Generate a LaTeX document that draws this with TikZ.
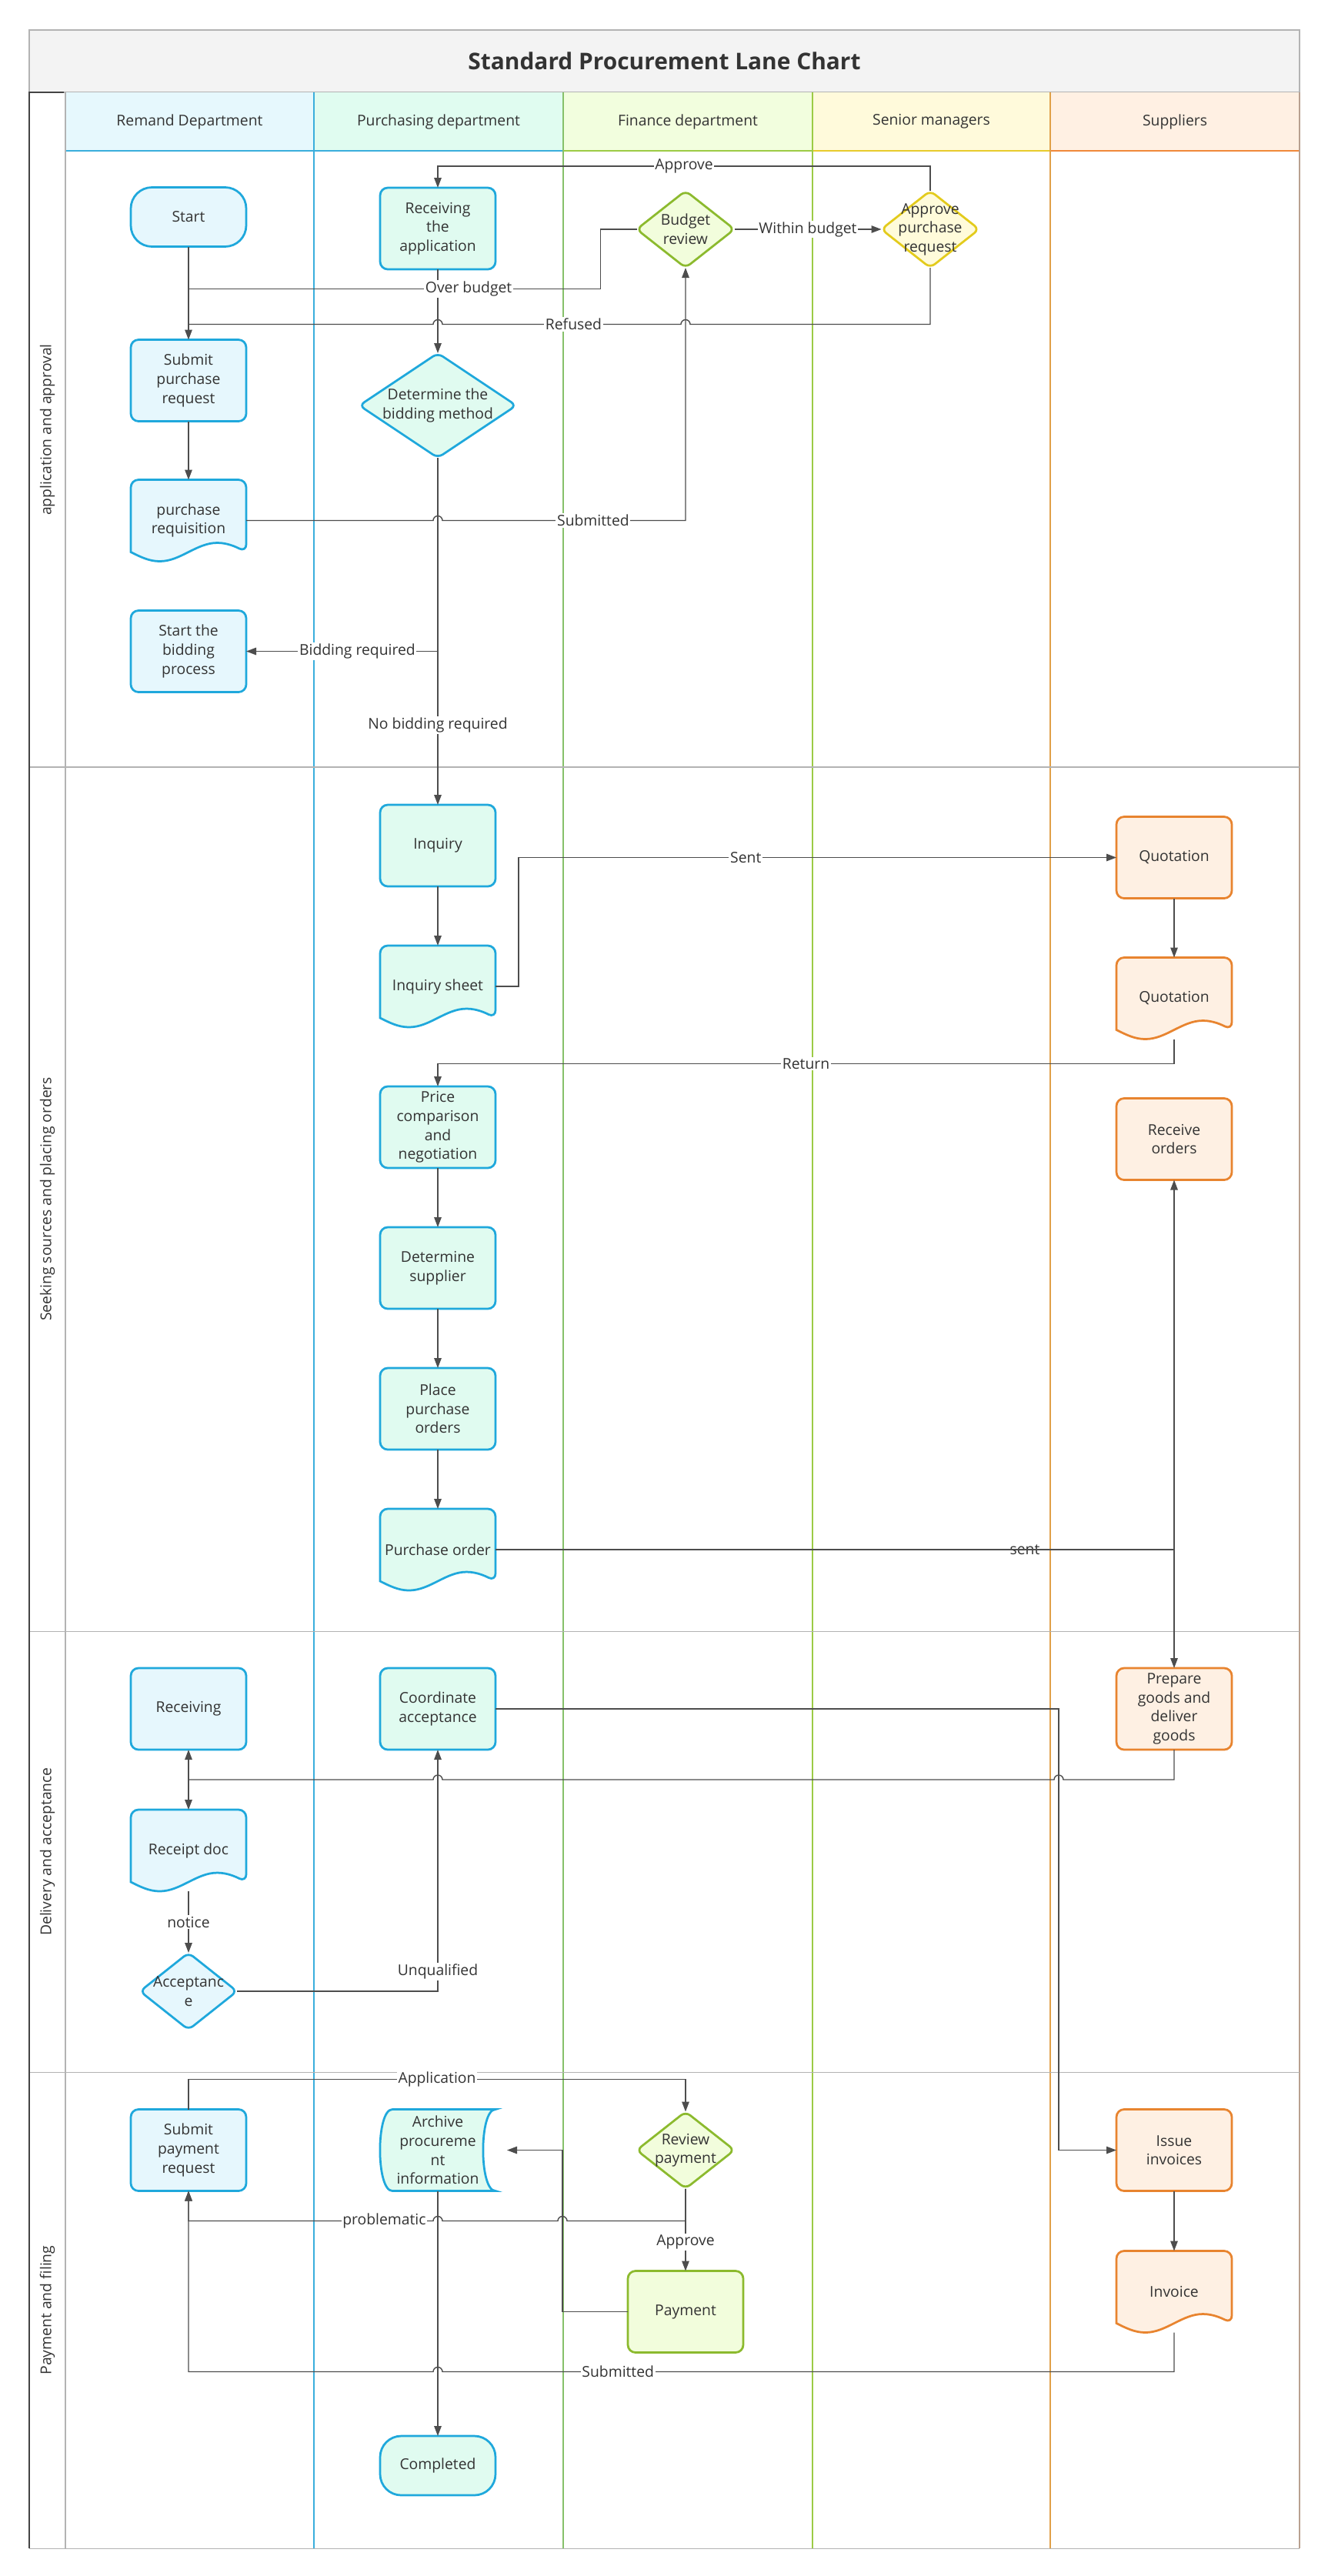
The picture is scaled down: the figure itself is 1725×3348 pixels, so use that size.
\documentclass[tikz,border=0pt]{standalone}
\usepackage{fontspec}
\setmainfont{Open Sans}
\usepackage{xcolor}
\usepackage{tikz}
\usetikzlibrary{shapes.geometric, arrows.meta, positioning, backgrounds}

\definecolor{ink}{HTML}{333333}
\definecolor{edge}{HTML}{4D4D4D}
\definecolor{cblue}{HTML}{1FA8DC}
\definecolor{fblue}{HTML}{E6F7FD}
\definecolor{fmint}{HTML}{E0FBF0}
\definecolor{cgreen}{HTML}{8CBA2E}
\definecolor{fgreen}{HTML}{F2FDDC}
\definecolor{cyellow}{HTML}{E3CB1C}
\definecolor{fyellow}{HTML}{FFFBDA}
\definecolor{corange}{HTML}{E8842F}
\definecolor{forange}{HTML}{FEF0E3}
\definecolor{hblue}{HTML}{E6F8FD}
\definecolor{hmint}{HTML}{E0FCF0}
\definecolor{hgreen}{HTML}{F2FEDE}
\definecolor{hyellow}{HTML}{FFFADB}
\definecolor{horange}{HTML}{FFF0E3}
\definecolor{titlegray}{HTML}{F3F3F3}
\definecolor{framegray}{HTML}{B3B3B3}
\definecolor{darkframe}{HTML}{444444}
\definecolor{lblue}{HTML}{3AAEDC}
\definecolor{lmint}{HTML}{86C06A}
\definecolor{lgreen}{HTML}{9CCB45}
\definecolor{lyellow}{HTML}{E8CB2C}
\definecolor{lorange}{HTML}{E0A048}
\definecolor{lbrown}{HTML}{B8A090}
\definecolor{hdorange}{HTML}{F0883A}

\begin{document}
\begin{tikzpicture}[
    x=0.2mm, y=0.2mm,
    font=\fontsize{11}{14}\selectfont, text=ink,
    task/.style 2 args={rectangle, rounded corners=2mm, draw=#1, fill=#2, line width=0.55mm, minimum width=30mm, minimum height=21.2mm, align=center, inner sep=0pt, outer sep=0pt},
    ends/.style 2 args={task={#1}{#2}, rounded corners=5.5mm, minimum height=15.4mm},
    decision/.style 2 args={diamond, rounded corners=1.5mm, draw=#1, fill=#2, line width=0.55mm, inner sep=-6mm, outer sep=0pt, align=center},
    docbox/.style={rectangle, minimum width=30mm, minimum height=21.2mm, align=center, inner sep=0pt, outer sep=0pt},
    docline/.style 2 args={draw=#1, fill=#2, line width=0.55mm},
    flow/.style={-{Triangle[length=2.6mm, width=1.9mm]}, line width=0.8pt, draw=edge},
    link/.style={line width=0.8pt, draw=edge},
    lbl/.style={fill=white, inner sep=1pt},
    lane/.style={line width=0.6pt},
]

\useasboundingbox (0,0) rectangle (1725,-3348);
\begin{scope}[on background layer]
\fill[white] (0,0) rectangle (1725,-3348);
\end{scope}

% pool
\filldraw[fill=titlegray, draw=framegray, lane] (38,-39) rectangle (1689,-120);
\node[font=\fontsize{17}{20}\selectfont\bfseries] (title) at (863.5,-79.5) {Standard Procurement Lane Chart};

\foreach \xa/\xb/\fc/\lc/\name [count=\i] in {85/408/hblue/lblue/Remand Department, 408/732/hmint/lblue/Purchasing department, 732/1056/hgreen/lgreen/Finance department, 1056/1365/hyellow/lyellow/Senior managers, 1365/1689/horange/hdorange/Suppliers} {
  \fill[\fc] (\xa,-120) rectangle (\xb,-196);
  \draw[\lc, lane] (\xa,-196) -- (\xb,-196);
  \node (head\i) at ({(\xa+\xb)/2},-158) {\name};
}

\foreach \x/\c in {85/framegray, 408/lblue, 732/lmint, 1056/lgreen, 1365/lorange, 1689/lbrown}
  \draw[\c, lane] (\x,-120) -- (\x,-3312);
\foreach \y in {997,2120,2693,3312}
  \draw[framegray, lane] (38,-\y) -- (1689,-\y);
\draw[darkframe, line width=1pt] (83,-120) -- (38,-120) -- (38,-3312);

\foreach \ya/\yb/\name [count=\i] in {120/997/application and approval, 997/2120/Seeking sources and placing orders, 2120/2693/Delivery and acceptance, 2693/3312/Payment and filing}
  \node[rotate=90] (phase\i) at (61.5,{-(\ya+\yb)/2}) {\name};

% application and approval
\node[ends={cblue}{fblue}] (start) at (245,-282) {Start};
\node[task={cblue}{fblue}, below=24.2mm of start] (submit) {Submit\\purchase\\request};
\node[docbox, below=15.2mm of submit] (req) {purchase\\requisition};
\node[task={cblue}{fblue}, below=12.8mm of req] (bidproc) {Start the\\bidding\\process};
\node[task={cblue}{fmint}] (rcv) at (569,-297) {Receiving\\the\\application};
\node[decision={cblue}{fmint}, minimum width=40.8mm, minimum height=27.2mm, below=21.8mm of rcv] (bidmeth) {Determine the\\bidding method};
\node[decision={cgreen}{fgreen}, minimum width=25.4mm, minimum height=20mm] (budget) at (891,-298) {Budget\\review};
\node[decision={cyellow}{fyellow}, minimum width=25.4mm, minimum height=20mm] (approve) at (1209,-298) {Approve\\purchase\\request};

% seeking sources and placing orders
\node[task={cblue}{fmint}] (inquiry) at (569,-1099) {Inquiry};
\node[docbox, below=15.4mm of inquiry] (sheet) {Inquiry sheet};
\node[task={cblue}{fmint}, below=15.4mm of sheet] (compare) {Price\\comparison\\and\\negotiation};
\node[task={cblue}{fmint}, below=15.4mm of compare] (supplier) {Determine\\supplier};
\node[task={cblue}{fmint}, below=15.4mm of supplier] (place) {Place\\purchase\\orders};
\node[docbox, below=15.4mm of place] (po) {Purchase order};
\node[task={corange}{forange}] (quote) at (1526,-1114.5) {Quotation};
\node[docbox, below=15.4mm of quote] (quotedoc) {Quotation};
\node[task={corange}{forange}, below=15.4mm of quotedoc] (order) {Receive\\orders};

% delivery and acceptance
\node[task={cblue}{fblue}] (recv) at (245,-2221) {Receiving};
\node[docbox, below=15.6mm of recv] (receipt) {Receipt doc};
\node[decision={cblue}{fblue}, minimum width=25.2mm, minimum height=20mm, below=16mm of receipt] (accept) {Acceptanc\\e};
\node[task={cblue}{fmint}] (coord) at (569,-2221) {Coordinate\\acceptance};
\node[task={corange}{forange}] (prepare) at (1526,-2221) {Prepare\\goods and\\deliver\\goods};

% payment and filing
\node[task={cblue}{fblue}] (payreq) at (245,-2794.5) {Submit\\payment\\request};
\node[docbox] (archive) at (569,-2794.5) {Archive\\procureme\\nt\\information};
\node[ends={cblue}{fmint}] (done) at (569,-3204.5) {Completed};
\node[decision={cgreen}{fgreen}, minimum width=25.4mm, minimum height=20mm] (review) at (891,-2794.5) {Review\\payment};
\node[task={cgreen}{fgreen}, below=21.4mm of review] (payment) {Payment};
\node[task={corange}{forange}] (invoices) at (1526,-2794.5) {Issue\\invoices};
\node[docbox, below=15.6mm of invoices] (invoice) {Invoice};

\begin{scope}[on background layer]
\foreach \n/\c/\f in {req/cblue/fblue, sheet/cblue/fmint, po/cblue/fmint, quotedoc/corange/forange, receipt/cblue/fblue, invoice/corange/forange}
  \filldraw[docline={\c}{\f}] (\n.west) [rounded corners=2mm] -- (\n.north west) -- (\n.north east) -- ([yshift=2.4mm]\n.south east) [sharp corners] sin ++(-7.5mm,2.4mm) cos ++(-7.5mm,-2.4mm) sin ++(-7.5mm,-2.4mm) cos ++(-7.5mm,2.4mm) -- cycle;
\filldraw[docline={cblue}{fmint}] ([xshift=3.2mm]archive.north west) -- (archive.north east)
  .. controls ([xshift=-4.3mm]archive.north east) and ([xshift=-4.3mm]archive.south east) .. (archive.south east)
  -- ([xshift=3.2mm]archive.south west)
  .. controls ([xshift=-1.1mm]archive.south west) and ([xshift=-1.1mm]archive.north west) .. ([xshift=3.2mm]archive.north west) -- cycle;
\end{scope}

\coordinate (overj) at ([yshift=-11mm]start.south);
\coordinate (refj) at ([yshift=-20.2mm]start.south);
\coordinate (dj) at ([yshift=-7.8mm]recv.south);
\coordinate (cturn) at ([xshift=-15mm]invoices.west |- coord.east);
\coordinate (pj) at ([yshift=-8.4mm]review.south);
\coordinate (sj) at ([yshift=-10.2mm]invoice.south);
\coordinate (aturn) at ([xshift=-17mm]payment.west);

\draw[flow] (start) -- (submit);
\draw[flow] (submit) -- (req);
\draw[flow] (rcv) -- (bidmeth);
\draw[flow] (bidmeth.south) |- node[lbl, pos=0.71]{Bidding required} (bidproc.east);
\draw[flow] (bidmeth) -- node[lbl, pos=0.77]{No bidding required} (inquiry);
\draw[link] (budget.west) -- ++(-47,0) |- node[lbl, pos=0.66]{Over budget} (overj);
\draw[link] (approve.south) |- ([xshift=1.2mm]budget.south |- refj) arc[start angle=0, end angle=180, radius=1.2mm] -- node[lbl, pos=0.45]{Refused} ([xshift=1.2mm]rcv.south |- refj) arc[start angle=0, end angle=180, radius=1.2mm] -- (refj);
\draw[flow] (approve.north) -- ++(0,32) -| node[lbl, pos=0.25]{Approve} (rcv.north);
\draw[flow] (budget) -- node[lbl]{Within budget} (approve);
\draw[flow] (req.east) -- ([xshift=-1.2mm]req.east -| bidmeth.south) arc[start angle=180, end angle=0, radius=1.2mm] -| node[lbl, pos=0.31]{Submitted} (budget.south);

\draw[flow] (inquiry) -- (sheet);
\draw[flow] (sheet.east) -- ++(30,0) |- node[lbl, pos=0.69]{Sent} (quote.west);
\draw[flow] (quote) -- (quotedoc);
\draw[flow] (quotedoc.south) -- ++(0,-32) -| node[lbl, pos=0.25]{Return} (compare.north);
\draw[flow] (compare) -- (supplier);
\draw[flow] (supplier) -- (place);
\draw[flow] (place) -- (po);
\draw[flow] (po.east) -| node[lbl, pos=0.39]{sent} (order.south);
\draw[flow] (po.east) -| (prepare.north);

\draw[flow] (dj) -- (recv.south);
\draw[flow] (dj) -- (receipt.north);
\draw[flow] (receipt.south) -- node[lbl]{notice} (accept.north);
\draw[flow] (accept.east) -| node[lbl, pos=0.54]{Unqualified} (coord.south);
\draw[flow] (coord.east) -- (cturn) |- (invoices.west);
\draw[link] (prepare.south) |- ([xshift=1.2mm]cturn |- dj) arc[start angle=0, end angle=180, radius=1.2mm] -- ([xshift=1.2mm]coord.south |- dj) arc[start angle=0, end angle=180, radius=1.2mm] -- (dj);

\draw[flow] (payreq.north) -- ++(0,39) -| node[lbl, pos=0.25]{Application} (review.north);
\draw[flow] (review) -- node[lbl, pos=0.65]{Approve} (payment);
\draw[flow] (payment.west) -- (aturn) |- ([xshift=3mm]archive.east);
\draw[flow] (archive.south) -- (done.north);
\draw[flow] (invoices) -- (invoice);
\draw[flow] (review.south) -- (pj) -- ([xshift=1.2mm]aturn |- pj) arc[start angle=0, end angle=180, radius=1.2mm] -- ([xshift=1.2mm]archive.south |- pj) arc[start angle=0, end angle=180, radius=1.2mm] -- node[lbl, pos=0.2]{problematic} (payreq.south |- pj) -- (payreq.south);
\draw[flow] (invoice.south) |- node[lbl, pos=0.88]{Submitted} ([xshift=1.2mm]archive.south |- sj) arc[start angle=0, end angle=180, radius=1.2mm] -- (payreq.south |- sj) -- (payreq.south);

\end{tikzpicture}
\end{document}
